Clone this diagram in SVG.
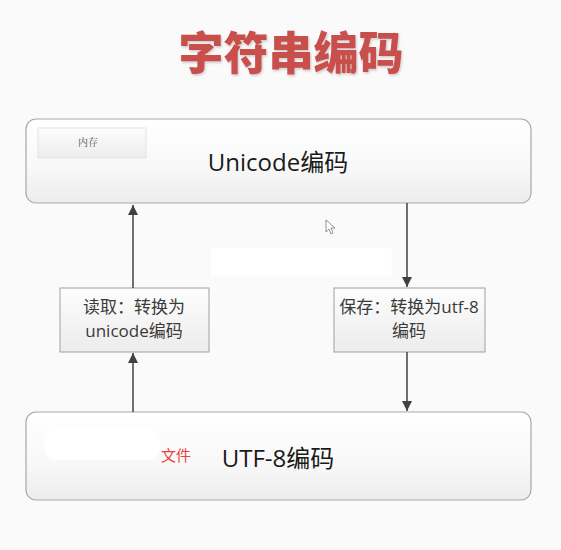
<svg xmlns="http://www.w3.org/2000/svg" width="561" height="550" viewBox="0 0 561 550">
<defs>
<linearGradient id="boxg" x1="0" y1="0" x2="0" y2="1">
<stop offset="0" stop-color="#ffffff"/>
<stop offset="0.6" stop-color="#f8f8f8"/>
<stop offset="1" stop-color="#ececec"/>
</linearGradient>
<linearGradient id="smallg" x1="0" y1="0" x2="0" y2="1">
<stop offset="0" stop-color="#fdfdfd"/>
<stop offset="1" stop-color="#ececec"/>
</linearGradient>
<marker id="arr" viewBox="0 0 10 10" refX="10" refY="5" markerWidth="10" markerHeight="10" markerUnits="userSpaceOnUse" orient="auto">
<path d="M0,0 L10,5 L0,10 z" fill="#404040"/>
</marker>
<filter id="sh" x="-10%" y="-10%" width="120%" height="130%">
<feDropShadow dx="1" dy="1.5" stdDeviation="1" flood-color="#000" flood-opacity="0.2"/>
</filter>
</defs>
<style>
.big{fill:url(#boxg);stroke:#a8a8a8;stroke-width:1.2}
.step{fill:url(#smallg);stroke:#a0a0a0;stroke-width:1}
.lbl{font-family:"Open Sans","Noto Sans CJK SC",sans-serif;fill:#1a1a1a}
.cn{font-family:"Noto Sans CJK SC",sans-serif;fill:#3a3a3a;font-size:17px}
.conn{stroke:#404040;stroke-width:1.5;fill:none}
</style>
<rect width="561" height="550" fill="#fbfafa"/>
<g id="title">
<text x="291" y="70" text-anchor="middle" font-family="Noto Sans CJK SC, sans-serif" font-weight="900" font-size="45" fill="#c9504e" filter="url(#sh)">字符串编码</text>
</g>
<g id="unicode">
<rect class="big" x="26" y="119" width="505" height="84" rx="10"/>
<rect x="38" y="128" width="108" height="30" fill="url(#smallg)" stroke="#e2e2e2" stroke-width="1"/>
<text x="88" y="146" text-anchor="middle" font-family="Noto Serif CJK SC, Noto Sans CJK SC, serif" font-size="10" fill="#555">内存</text>
<text class="lbl" x="278" y="171" text-anchor="middle" font-size="24">Unicode编码</text>
</g>
<rect x="210" y="247" width="182" height="30" fill="#ffffff" stroke="#fbf2f0" stroke-width="0.5"/>
<g id="read">
<rect class="step" x="60" y="288" width="149" height="64"/>
<text class="cn" x="134" y="313" text-anchor="middle">读取：转换为</text>
<text class="cn" x="134" y="337" text-anchor="middle"><tspan font-family="Open Sans, sans-serif">unicode</tspan>编码</text>
</g>
<g id="save">
<rect class="step" x="334" y="288" width="151" height="64"/>
<text class="cn" x="409" y="313" text-anchor="middle">保存：转换为<tspan font-family="Open Sans, sans-serif">utf-8</tspan></text>
<text class="cn" x="409" y="337" text-anchor="middle">编码</text>
</g>
<g id="utf8">
<rect class="big" x="26" y="412" width="505" height="88" rx="10"/>
<rect x="44" y="429" width="116" height="31" rx="12" fill="#ffffff"/>
<text x="176" y="461" text-anchor="middle" font-family="Noto Sans CJK SC, sans-serif" font-size="15" fill="#e8433a">文件</text>
<text class="lbl" x="278" y="467" text-anchor="middle" font-size="24">UTF-8编码</text>
</g>
<g id="connectors">
<line class="conn" x1="133" y1="288" x2="133" y2="205" marker-end="url(#arr)"/>
<line class="conn" x1="133" y1="412" x2="133" y2="353" marker-end="url(#arr)"/>
<line class="conn" x1="407" y1="203" x2="407" y2="287" marker-end="url(#arr)"/>
<line class="conn" x1="407" y1="352" x2="407" y2="411" marker-end="url(#arr)"/>
</g>
<path d="M326,220 L326,232 L329,229 L331,234 L333,233 L331,228 L335,228 z" fill="#fff" stroke="#777" stroke-width="0.8"/>
</svg>
